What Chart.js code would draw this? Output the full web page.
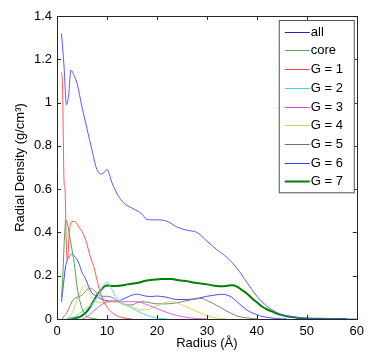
<!DOCTYPE html>
<html>
<head>
<meta charset="utf-8">
<script src="https://cdn.jsdelivr.net/npm/chart.js@4/dist/chart.umd.min.js"></script>
<style>
html,body{margin:0;padding:0;background:#fff;}
#wrap{width:369px;height:353px;}
</style>
</head>
<body>
<div id="wrap"><canvas id="c" width="369" height="353"></canvas></div>
<script>
// ---- data ----
const seriesNames = ["all","core","G = 1","G = 2","G = 3","G = 4","G = 5","G = 6","G = 7"];

const rAll = [0.9,1.4,1.9,2.3,2.8,3.5,4,5,6,7,8,9,10,11,12,13,14,15,16,17,18,19,20,22,24,26,28,30,32,34,36,38,40,42,44,46,48,50,52,60];
const vAll = [1.32,1.17,0.99,1.03,1.15,1.12,1.09,0.98,0.88,0.78,0.69,0.67,0.69,0.63,0.58,0.545,0.525,0.513,0.50,0.485,0.46,0.458,0.458,0.452,0.425,0.41,0.40,0.36,0.32,0.285,0.235,0.17,0.105,0.06,0.03,0.015,0.008,0.003,0,0];

const rCore = [0.9,1.2,1.5,1.8,2.1,2.4,2.7,3,3.3,3.6,4,4.5,5,5.5,6,7,8];
const vCore = [0.1,0.22,0.38,0.457,0.44,0.4,0.36,0.32,0.28,0.23,0.15,0.09,0.05,0.025,0.012,0.003,0];

const rG1 = [0.9,1.1,1.25,1.4,1.6,1.9,2.1,2.4,2.7,3,3.5,4,4.5,5,5.5,6,6.5,7,7.5,8,8.5,9,9.5,10,11,12,13,14,15];
const vG1 = [1.14,1.08,0.86,0.64,0.6,0.32,0.27,0.38,0.44,0.45,0.45,0.44,0.42,0.405,0.38,0.345,0.3,0.265,0.23,0.18,0.135,0.1,0.075,0.055,0.03,0.015,0.007,0.002,0];

const rG2 = [2,3,4,5,6,7,8,9,10,11,12,13,14,15,16,17,18,19,20,22];
const vG2 = [0,0.005,0.018,0.035,0.05,0.068,0.1,0.145,0.17,0.135,0.095,0.08,0.062,0.05,0.038,0.027,0.017,0.01,0.005,0];

const rG3 = [5,6,7,8,9,10,11,12,13,14,15,16,17,18,19,20,22,24,26,28,30];
const vG3 = [0,0.01,0.03,0.05,0.068,0.08,0.085,0.083,0.08,0.08,0.08,0.08,0.075,0.066,0.057,0.048,0.03,0.016,0.007,0.002,0];

const rG4 = [2,3,3.5,4,4.5,5,5.5,6,6.5,7,7.5,8,9,10,11,12,13,14,15,16,17,18,19,20,21,22,23,24,25,26,28,30,32,34];
const vG4 = [0,0.026,0.055,0.088,0.115,0.14,0.155,0.145,0.12,0.1,0.088,0.08,0.075,0.075,0.08,0.078,0.07,0.063,0.055,0.047,0.042,0.043,0.05,0.06,0.07,0.078,0.08,0.075,0.065,0.055,0.035,0.015,0.004,0];

const rG5 = [1,1.5,2,2.5,3,3.5,4,5,6,6.7,7.5,8,9,10,11,12,13,14,15,16,17,18,20,22,24,26,28,29,30,31,32,33,34,35,36,38,40];
const vG5 = [0,0.015,0.03,0.055,0.08,0.095,0.1,0.11,0.135,0.142,0.13,0.12,0.105,0.105,0.1,0.085,0.07,0.065,0.065,0.075,0.08,0.078,0.07,0.07,0.075,0.085,0.093,0.095,0.085,0.075,0.062,0.05,0.036,0.025,0.014,0.005,0];

const rG6 = [0.9,1.3,1.6,2,2.5,3,3.5,4,4.5,5,5.5,6,6.5,7,8,9,10,11,12,13,14,15,16,17,18,19,20,22,24,26,28,30,32,33,34,35,36,37,38,39,40,41,42,44,46];
const vG6 = [0.08,0.16,0.226,0.27,0.29,0.30,0.29,0.275,0.25,0.215,0.195,0.17,0.14,0.12,0.105,0.09,0.085,0.08,0.08,0.09,0.1,0.11,0.115,0.11,0.105,0.104,0.106,0.1,0.09,0.09,0.095,0.105,0.112,0.114,0.111,0.1,0.08,0.06,0.042,0.029,0.02,0.012,0.008,0.002,0];

const rG7 = [2,3,4,4.6,5.5,6,7,8,8.5,9,9.5,10,11,12,13,14,15,16,17,18,19,20,21,22,23,24,25,26,27,28,30,32,33,34,35,36,37,38,39,40,41,42,43,44,45,46,47,48,50,52,55,58];
const vG7 = [0,0.002,0.006,0.01,0.025,0.035,0.07,0.11,0.125,0.14,0.15,0.155,0.153,0.152,0.155,0.16,0.163,0.166,0.172,0.178,0.181,0.183,0.185,0.185,0.185,0.18,0.177,0.175,0.17,0.166,0.16,0.152,0.151,0.153,0.156,0.15,0.134,0.118,0.096,0.077,0.058,0.045,0.035,0.025,0.018,0.013,0.009,0.006,0.002,0.001,0,0];

const xTicks = [0,10,20,30,40,50,60];
const yTicks = [0,0.2,0.4,0.6,0.8,1,1.2,1.4];

// ---- styling ----
const radii = [rAll,rCore,rG1,rG2,rG3,rG4,rG5,rG6,rG7];
const vals  = [vAll,vCore,vG1,vG2,vG3,vG4,vG5,vG6,vG7];
const colors = ['#5a5aff','#4aa84a','#ff5a5a','#5adede','#e060e0','#d6d65a','#808080','#4a4aff','#008000'];
const legendColors = ['#2020d0','#5ab05a','#ff4040','#40d8d8','#e040e0','#d0d040','#707070','#3a3aff','#008000'];
const widths = [1,1,1,1,1,1,1,1,2];

const datasets = seriesNames.map((n,i)=>({
  label:n,
  data: radii[i].map((r,k)=>({x:r,y:vals[i][k]})),
  borderColor: colors[i],
  borderWidth: widths[i],
  pointRadius:0,
  fill:false,
  cubicInterpolationMode:'monotone'
}));

const FONT = '"Liberation Sans", Arial, sans-serif';
const AX = '#262626';

const boxPlugin = {
  id:'box',
  afterDatasetsDraw(chart){
    const {ctx, chartArea:a, scales} = chart;
    ctx.save();
    ctx.strokeStyle = AX; ctx.lineWidth = 1;
    ctx.strokeRect(Math.round(a.left)+0.5, Math.round(a.top)+0.5, Math.round(a.right-a.left), Math.round(a.bottom-a.top));
    const L = 4;
    ctx.beginPath();
    xTicks.forEach(t=>{
      const px = Math.round(scales.x.getPixelForValue(t))+0.5;
      ctx.moveTo(px,a.bottom); ctx.lineTo(px,a.bottom-L);
      ctx.moveTo(px,a.top); ctx.lineTo(px,a.top+L);
    });
    yTicks.forEach(t=>{
      const py = Math.round(scales.y.getPixelForValue(t))+0.5;
      ctx.moveTo(a.left,py); ctx.lineTo(a.left+L,py);
      ctx.moveTo(a.right,py); ctx.lineTo(a.right-L,py);
    });
    ctx.stroke();
    ctx.restore();
  },
  afterDraw(chart){
    const {ctx, chartArea:a} = chart;
    const ds = chart.data.datasets;
    const x0 = a.right-78, y0 = a.top+4, w = 75, rowH = 18.7;
    const h = ds.length*rowH + 4;
    ctx.save();
    ctx.fillStyle='#fff';
    ctx.fillRect(x0+0.5,y0+0.5,w,h);
    ctx.strokeStyle='#555'; ctx.lineWidth=1;
    ctx.strokeRect(x0+0.5,y0+0.5,w,h);
    ctx.font = '13px '+FONT;
    ctx.textBaseline='middle';
    ds.forEach((d,i)=>{
      const yy = y0 + 11.7 + i*rowH;
      ctx.strokeStyle = legendColors[i];
      ctx.lineWidth = d.borderWidth;
      ctx.beginPath();
      ctx.moveTo(x0+6, Math.round(yy)+0.5); ctx.lineTo(x0+31, Math.round(yy)+0.5);
      ctx.stroke();
      ctx.fillStyle='#000';
      ctx.fillText(d.label, x0+32, yy+0.5);
    });
    ctx.restore();
  }
};

new Chart(document.getElementById('c'), {
  type:'line',
  data:{datasets},
  options:{
    responsive:false,
    animation:false,
    layout:{padding:{top:16,right:10,left:0,bottom:0}},
    plugins:{legend:{display:false},tooltip:{enabled:false}},
    scales:{
      x:{
        type:'linear', min:0, max:60,
        afterBuildTicks(s){ s.ticks = xTicks.map(v=>({value:v})); },
        afterFit(s){ s.height = 34; },
        grid:{display:false, drawTicks:false},
        border:{display:false},
        ticks:{font:{family:FONT,size:13}, color:'#000', padding:5, maxRotation:0},
        title:{display:true, text:'Radius (Å)', font:{family:FONT,size:13}, color:'#000', padding:{top:0,bottom:2}}
      },
      y:{
        type:'linear', min:0, max:1.4,
        afterBuildTicks(s){ s.ticks = yTicks.map(v=>({value:v})); },
        afterFit(s){ s.width = 57; },
        grid:{display:false, drawTicks:false},
        border:{display:false},
        ticks:{font:{family:FONT,size:13}, color:'#000', padding:5,
          callback:v=>String(Math.round(v*10)/10)},
        title:{display:true, text:'Radial Density (g/cm³)', font:{family:FONT,size:13}, color:'#000', padding:{top:13,bottom:2}}
      }
    }
  },
  plugins:[boxPlugin]
});
</script>
</body>
</html>
